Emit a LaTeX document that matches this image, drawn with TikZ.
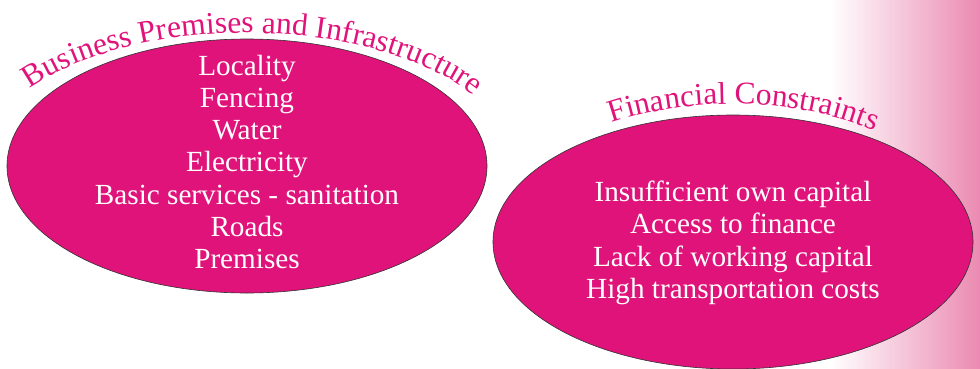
\documentclass[tikz,border=0pt]{standalone}
\usepackage{fontspec}
\setmainfont{Liberation Serif}
\usetikzlibrary{shapes.geometric,decorations.text,positioning}

\definecolor{magentafill}{RGB}{224,19,123}
\definecolor{edgepink}{RGB}{235,138,178}

\begin{document}
\begin{tikzpicture}[x=1pt,y=1pt,
  blob/.style={ellipse, draw=black!80, line width=0.6pt, fill=magentafill,
    inner sep=0pt, minimum width=480pt, minimum height=254pt},
  items/.style={text=white, align=center, inner sep=0pt,
    font=\fontsize{29.2}{32.3}\selectfont},
  arctitle/.style={decorate, decoration={text along path, text align=center,
    text={|\fontsize{31.5}{32}\selectfont\color{magentafill}|#1}}}]

  \newcommand\PicW{980}
  \newcommand\PicH{368}

  \useasboundingbox (0,0) rectangle (\PicW,\PicH);

  % pink fade on the right edge
  \shade[left color=white, right color=edgepink] (830,0) rectangle (\PicW,\PicH);

  % the two ellipses
  \node[blob] (bpi) at (247,202) {};
  \node[blob] (fin) at (733,126) {};

  % titles bent over the top of each ellipse
  \path[arctitle={Business Premises and Infrastructure}]
    (bpi.center) ++(148:267 and 133)
    arc[start angle=148, end angle=28, x radius=267, y radius=133];
  \path[arctitle={Financial Constraints}]
    (fin.center) ++(128:240 and 138)
    arc[start angle=128, end angle=46, x radius=240, y radius=138];

  % contents
  \node[items] (bpilist) at ([yshift=4pt]bpi.center)
    {Locality\\Fencing\\Water\\Electricity\\Basic services - sanitation\\Roads\\Premises};
  \node[items] (finlist) at ([yshift=-1pt]fin.center)
    {Insufficient own capital\\Access to finance\\Lack of working capital\\High transportation costs};

\end{tikzpicture}
\end{document}
